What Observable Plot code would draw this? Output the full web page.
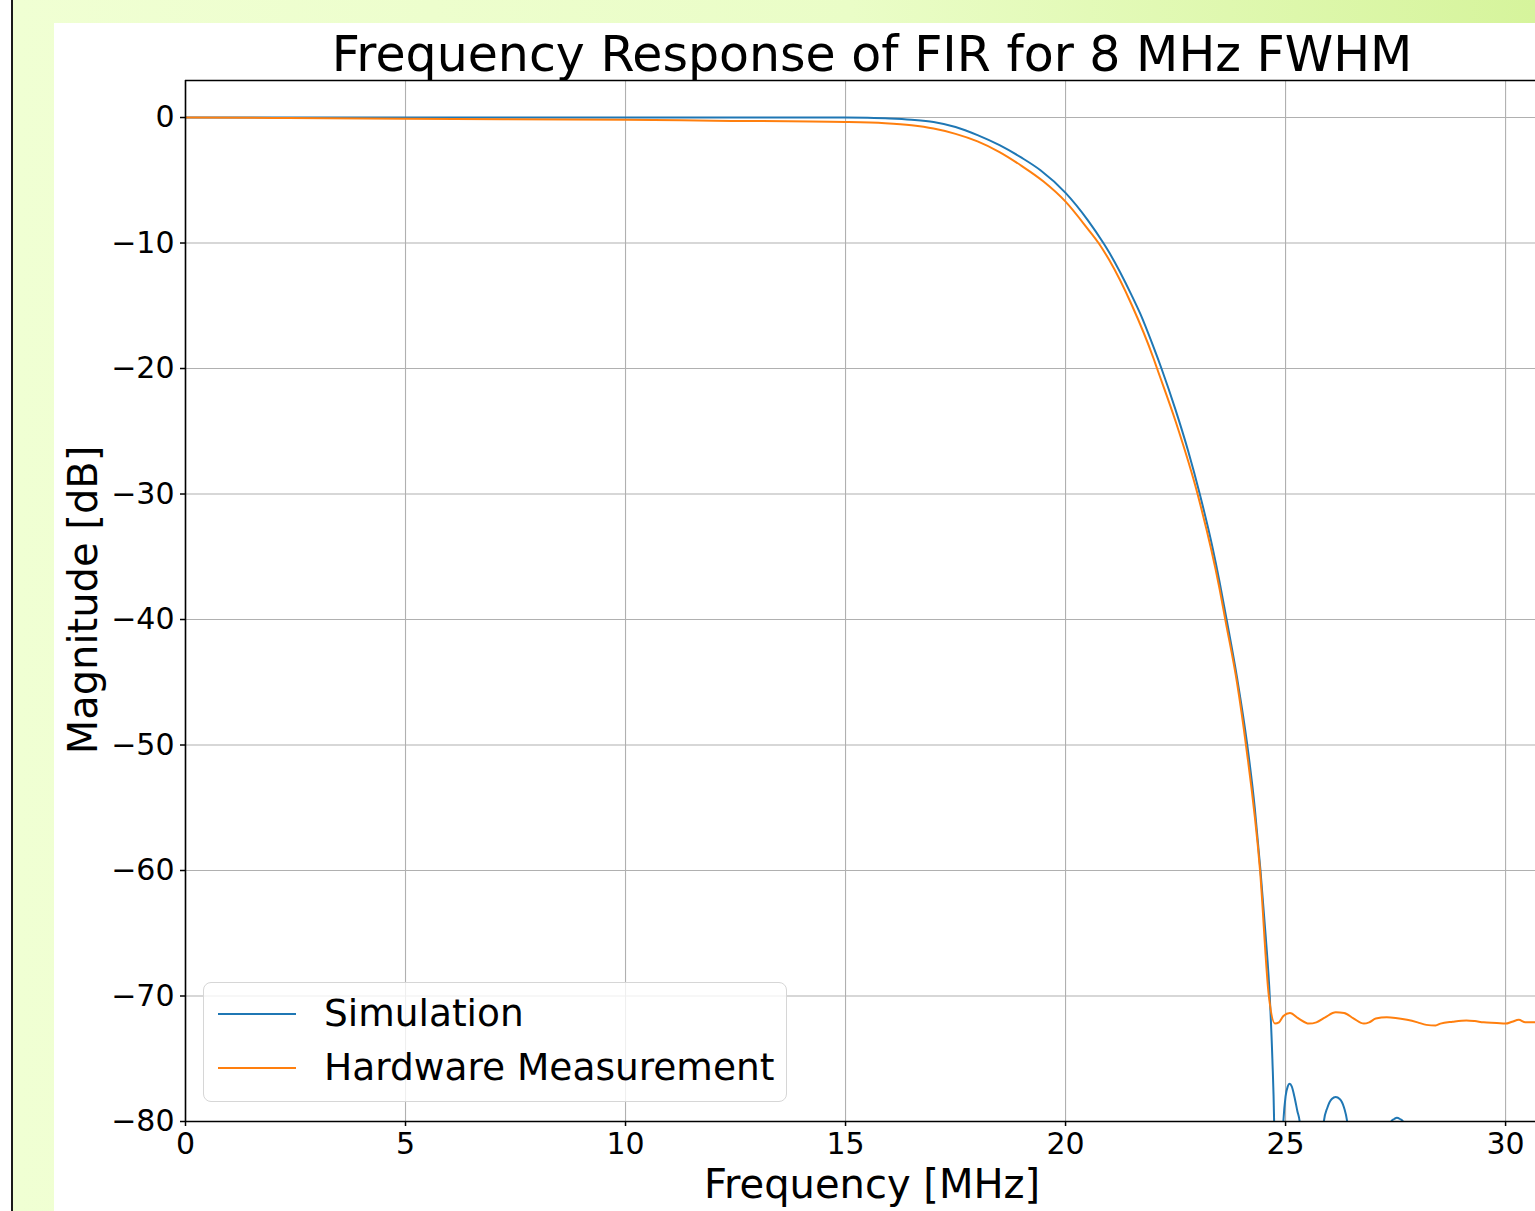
<!DOCTYPE html>
<html>
<head>
<meta charset="utf-8">
<script src="https://cdn.jsdelivr.net/npm/d3@7"></script>
<script src="https://cdn.jsdelivr.net/npm/@observablehq/plot@0.6"></script>
<style>
  html, body { margin: 0; padding: 0; width: 1535px; height: 1211px; overflow: hidden; background: #fff; font-family: "DejaVu Sans", sans-serif; }
  #bg { position: absolute; left: 13px; top: 0; width: 1522px; height: 1211px; background: linear-gradient(to right, #f0ffd3 0%, #eafdc7 55%, #d6f49c 100%); }
  #vline { position: absolute; left: 11px; top: 0; width: 2px; height: 1211px; background: #1a1a1a; }
  #panel { position: absolute; left: 54px; top: 23px; width: 1481px; height: 1188px; background: #fff; overflow: hidden; }
  #title { position: absolute; left: 0; top: 8px; width: 1636px; text-align: center; font-size: 49px; line-height: 48px; color: #000; white-space: nowrap; }
  #chart { position: absolute; left: 0; top: 52px; }
  #xlabel { position: absolute; left: 0; top: 1141px; width: 1636px; text-align: center; font-size: 40px; line-height: 40px; color: #000; white-space: nowrap; }
  #ylabel { position: absolute; left: -171px; top: 557px; width: 400px; height: 40px; text-align: center; font-size: 40px; line-height: 40px; color: #000; white-space: nowrap; transform: rotate(-90deg); }
  #legend { position: absolute; left: 149px; top: 959px; width: 582px; height: 118px; border: 1px solid #d6d6d6; border-radius: 8px; background: rgba(255,255,255,0.8); }
  .lg-line { position: absolute; left: 14px; width: 78px; height: 2px; }
  .lg-text { position: absolute; left: 120px; font-size: 37.5px; line-height: 37px; color: #000; white-space: nowrap; }
</style>
</head>
<body>
<div id="bg"></div>
<div id="vline"></div>
<div id="panel">
  <div id="title"></div>
  <div id="chart"></div>
  <div id="xlabel"></div>
  <div id="ylabel"></div>
  <div id="legend"></div>
</div>
<script>
// ---- Text ----
const titleText = "Frequency Response of FIR for 8 MHz FWHM";
const xLabelText = "Frequency [MHz]";
const yLabelText = "Magnitude [dB]";
const seriesNames = ["Simulation", "Hardware Measurement"];
const seriesColors = ["#1f77b4", "#ff7f0e"];

// ---- Ticks ----
const xTicks = [0, 5, 10, 15, 20, 25, 30];
const yTicks = [-80, -70, -60, -50, -40, -30, -20, -10, 0];
const xDomain = [0, 30.68];
const yDomain = [-80, 2.95];

// ---- Simulation (frequency in MHz, magnitude in dB) ----
const simFreq = [0, 5, 10, 15, 15.5, 16, 16.5, 17, 17.5, 18, 18.5, 19, 19.43, 20, 20.5, 20.86, 21, 21.5, 21.7, 22, 22.18, 22.5, 22.78, 23.05, 23.33, 23.5, 23.66, 23.9, 24.13, 24.3, 24.43, 24.55, 24.64, 24.7, 24.74, 24.8, 24.9, 24.95, 25.0, 25.05, 25.09, 25.14, 25.2, 25.27, 25.32, 25.4, 25.6, 25.8, 25.87, 25.95, 26.05, 26.14, 26.23, 26.33, 26.4, 26.5, 26.9, 27.3, 27.4, 27.47, 27.53, 27.6, 27.67, 27.8, 28.2, 28.7, 29.2, 29.7, 30.2, 30.7, 31];
const simDb   = [0, 0, 0, 0, -0.02, -0.07, -0.17, -0.35, -0.75, -1.4, -2.2, -3.2, -4.2, -6.0, -8.15, -10, -10.8, -14.15, -15.65, -18.3, -20, -23.3, -26.5, -30, -34.1, -37.0, -40, -44.7, -50, -55.0, -60, -65.3, -70, -75, -80, -100, -84, -80, -78.0, -77.2, -77.0, -77.2, -78.0, -79.2, -80, -84, -100, -84, -80, -78.9, -78.2, -78.05, -78.2, -78.9, -80, -84, -100, -84, -80, -79.8, -79.7, -79.8, -80, -84, -100, -90, -100, -90, -100, -90, -100];

// ---- Hardware measurement ----
const hwFreq = [0, 2, 5, 10, 12, 15, 15.9, 16.5, 17, 17.5, 18, 18.5, 19, 19.5, 20, 20.5, 20.75, 21, 21.5, 22, 22.08, 22.5, 23, 23.5, 23.63, 23.9, 24.1, 24.42, 24.62, 24.76, 24.85, 24.95, 25.1, 25.3, 25.53, 25.7, 25.9, 26.14, 26.33, 26.55, 26.78, 26.9, 27.05, 27.3, 27.5, 27.76, 28.0, 28.2, 28.41, 28.52, 28.8, 29.11, 29.3, 29.5, 29.8, 30.0, 30.15, 30.3, 30.45, 30.68, 31];
const hwDb   = [0, -0.03, -0.1, -0.18, -0.25, -0.35, -0.45, -0.62, -0.88, -1.3, -1.9, -2.75, -3.85, -5.1, -6.7, -8.85, -10, -11.4, -14.9, -19.2, -20, -24.2, -30.0, -37.55, -40, -45.1, -50, -60, -70, -72.2, -72.1, -71.6, -71.35, -71.8, -72.2, -72.1, -71.7, -71.3, -71.35, -71.8, -72.2, -72.1, -71.8, -71.7, -71.75, -71.9, -72.1, -72.3, -72.35, -72.2, -72.05, -71.95, -72.0, -72.1, -72.15, -72.2, -72.05, -71.9, -72.1, -72.1, -72.0];

const simData = simFreq.map((f, i) => ({f, db: simDb[i]}));
const hwData = hwFreq.map((f, i) => ({f, db: hwDb[i]}));

const fmt = d => d < 0 ? "\u2212" + Math.abs(d) : String(d);

const chart = Plot.plot({
  width: 1481,
  height: 1136,
  marginLeft: 131,
  marginRight: 0,
  marginTop: 5,
  marginBottom: 90,
  style: {fontFamily: "DejaVu Sans, sans-serif", fontSize: "30px", background: "transparent", color: "#000", overflow: "visible"},
  x: {domain: xDomain},
  y: {domain: yDomain},
  marks: [
    Plot.gridX(xTicks, {stroke: "#b0b0b0", strokeOpacity: 1, strokeWidth: 1.1}),
    Plot.gridY(yTicks, {stroke: "#b0b0b0", strokeOpacity: 1, strokeWidth: 1.1}),
    Plot.line(simData, {x: "f", y: "db", stroke: seriesColors[0], strokeWidth: 2, curve: "monotone-x", clip: true}),
    Plot.line(hwData, {x: "f", y: "db", stroke: seriesColors[1], strokeWidth: 2, curve: "monotone-x", clip: true}),
    Plot.ruleX([xDomain[0]], {stroke: "#000", strokeWidth: 1.6}),
    Plot.ruleY(yDomain, {stroke: "#000", strokeWidth: 1.6}),
    Plot.axisX(xTicks, {tickSize: 5, tickPadding: 6, tickFormat: fmt, label: null, strokeWidth: 1.5, fontSize: 30}),
    Plot.axisY(yTicks, {tickSize: 5, tickPadding: 6, tickFormat: fmt, label: null, strokeWidth: 1.5, fontSize: 30})
  ]
});
document.getElementById("chart").appendChild(chart);

document.getElementById("title").textContent = titleText;
document.getElementById("xlabel").textContent = xLabelText;
document.getElementById("ylabel").textContent = yLabelText;

const legend = document.getElementById("legend");
seriesNames.forEach((name, i) => {
  const ln = document.createElement("div");
  ln.className = "lg-line";
  ln.style.top = (29.5 + i * 54.5) + "px";
  ln.style.background = seriesColors[i];
  legend.appendChild(ln);
  const tx = document.createElement("div");
  tx.className = "lg-text";
  tx.style.top = (11.5 + i * 54.5) + "px";
  tx.textContent = name;
  legend.appendChild(tx);
});
</script>
</body>
</html>
